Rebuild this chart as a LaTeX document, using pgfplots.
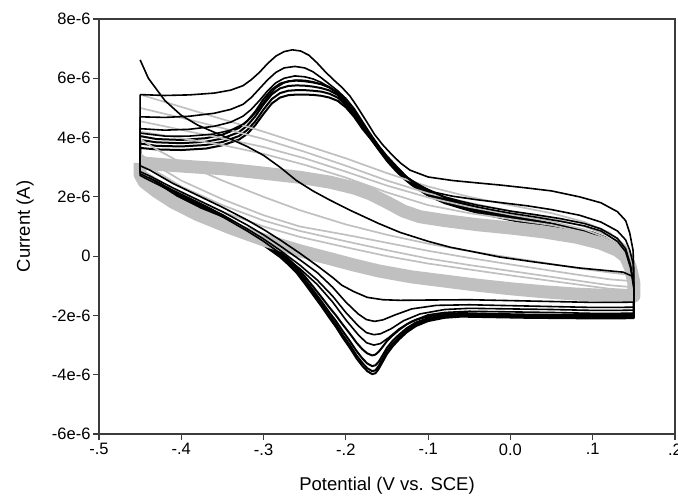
\documentclass[border=0pt]{standalone}
\usepackage{pgfplots}
\pgfplotsset{compat=1.18}
\usepackage{fontspec}
\setmainfont{Liberation Sans}
\definecolor{cvgray}{RGB}{192,192,192}
\definecolor{axgray}{RGB}{60,60,60}

\begin{document}
\begin{tikzpicture}
\begin{axis}[
    name=ax,
    scale only axis,
    width=576pt, height=415pt,
    xmin=-0.5, xmax=0.2,
    ymin=-6, ymax=8,
    axis line style={line width=1.3pt, axgray},
    tick style={line width=1.1pt, axgray},
    tick align=outside,
    tick pos=left,
    major tick length=6pt,
    xtick={-0.5,-0.4,-0.3,-0.2,-0.1,0,0.1,0.2},
    xticklabels={-.5,-.4,-.3,-.2,-.1,0.0,.1,.2},
    ytick={-6,-4,-2,0,2,4,6,8},
    yticklabels={-6e-6,-4e-6,-2e-6,0,2e-6,4e-6,6e-6,8e-6},
    ticklabel style={font=\fontsize{16.5}{16.5}\selectfont},
    yticklabel style={xshift=1pt},
    xlabel={Potential (V vs. SCE)},
    ylabel={Current (A)},
    every axis x label/.style={at={([yshift=-52pt]axis description cs:0.5,0)}, anchor=center, font=\fontsize{18.5}{18.5}\selectfont},
    every axis y label/.style={at={([xshift=-74pt]axis description cs:0,0.5)}, anchor=center, rotate=90, font=\fontsize{18.5}{18.5}\selectfont},
    every axis plot/.append style={line join=round},
]
% ---- dense black bundle (later cycles), currents in microampere
\addplot[black, line width=2pt] coordinates {
(-0.45,4.05) (-0.43,3.95) (-0.40,3.92) (-0.37,3.98) (-0.35,4.1) (-0.33,4.32) (-0.32,4.55) (-0.31,4.88) (-0.30,5.3) (-0.29,5.62) (-0.28,5.82) (-0.27,5.9) (-0.26,5.92) (-0.25,5.9) (-0.24,5.86) (-0.23,5.8) (-0.22,5.7) (-0.21,5.52) (-0.20,5.22) (-0.19,4.85) (-0.18,4.45) (-0.17,4.08) (-0.16,3.7) (-0.15,3.33) (-0.14,3.02) (-0.13,2.76) (-0.12,2.53) (-0.10,2.2) (-0.08,1.95) (-0.06,1.78) (-0.04,1.62) (-0.02,1.5) (0.0,1.38) (0.02,1.27) (0.04,1.16) (0.06,1.05) (0.08,0.94) (0.10,0.8) (0.115,0.64) (0.13,0.38) (0.14,0.05) (0.146,-0.45) (0.15,-1.15) (0.15,-1.98)
(0.13,-1.99) (0.10,-1.99) (0.06,-1.98) (0.02,-1.97) (-0.02,-1.95) (-0.06,-1.92) (-0.08,-1.95) (-0.10,-2.03) (-0.115,-2.15) (-0.126,-2.3) (-0.135,-2.48) (-0.143,-2.67) (-0.15,-2.86) (-0.155,-3.05) (-0.16,-3.22) (-0.164,-3.32) (-0.168,-3.35) (-0.174,-3.28) (-0.18,-3.14) (-0.187,-2.92) (-0.195,-2.62) (-0.204,-2.3) (-0.212,-2.0) (-0.22,-1.73) (-0.23,-1.37) (-0.24,-1.02) (-0.25,-0.68) (-0.26,-0.36) (-0.27,-0.08) (-0.28,0.14) (-0.30,0.54) (-0.32,0.9) (-0.34,1.22) (-0.37,1.67) (-0.40,2.1) (-0.43,2.52) (-0.45,2.77) (-0.45,4.05)
};
\addplot[black, line width=2pt] coordinates {
(-0.45,3.92) (-0.43,3.84) (-0.40,3.81) (-0.37,3.86) (-0.35,3.97) (-0.33,4.18) (-0.32,4.4) (-0.31,4.72) (-0.30,5.12) (-0.29,5.46) (-0.28,5.66) (-0.27,5.74) (-0.26,5.76) (-0.25,5.75) (-0.24,5.72) (-0.23,5.67) (-0.22,5.59) (-0.21,5.44) (-0.20,5.16) (-0.19,4.8) (-0.18,4.4) (-0.17,4.04) (-0.16,3.66) (-0.15,3.29) (-0.14,2.98) (-0.13,2.72) (-0.12,2.49) (-0.10,2.15) (-0.08,1.9) (-0.06,1.73) (-0.04,1.57) (-0.02,1.45) (0.0,1.33) (0.02,1.22) (0.04,1.11) (0.06,1.0) (0.08,0.89) (0.10,0.75) (0.115,0.6) (0.13,0.34) (0.14,0.02) (0.146,-0.48) (0.15,-1.18) (0.15,-2.02)
(0.13,-2.03) (0.10,-2.03) (0.06,-2.02) (0.02,-2.01) (-0.02,-1.99) (-0.06,-1.96) (-0.08,-1.99) (-0.10,-2.09) (-0.115,-2.24) (-0.126,-2.43) (-0.135,-2.64) (-0.143,-2.85) (-0.15,-3.09) (-0.155,-3.33) (-0.16,-3.56) (-0.164,-3.68) (-0.168,-3.71) (-0.174,-3.62) (-0.18,-3.45) (-0.187,-3.2) (-0.195,-2.87) (-0.204,-2.52) (-0.212,-2.19) (-0.22,-1.9) (-0.23,-1.51) (-0.24,-1.14) (-0.25,-0.78) (-0.26,-0.44) (-0.27,-0.16) (-0.28,0.07) (-0.30,0.47) (-0.32,0.83) (-0.34,1.15) (-0.37,1.6) (-0.40,2.03) (-0.43,2.45) (-0.45,2.7) (-0.45,3.92)
};
\addplot[black, line width=2pt] coordinates {
(-0.45,3.8) (-0.43,3.72) (-0.40,3.7) (-0.37,3.75) (-0.35,3.85) (-0.33,4.05) (-0.32,4.25) (-0.31,4.55) (-0.30,4.95) (-0.29,5.3) (-0.28,5.5) (-0.27,5.58) (-0.26,5.6) (-0.25,5.6) (-0.24,5.58) (-0.23,5.55) (-0.22,5.48) (-0.21,5.35) (-0.20,5.1) (-0.19,4.75) (-0.18,4.35) (-0.17,4.0) (-0.16,3.62) (-0.15,3.25) (-0.14,2.95) (-0.13,2.68) (-0.12,2.45) (-0.10,2.1) (-0.08,1.85) (-0.06,1.68) (-0.04,1.52) (-0.02,1.4) (0.0,1.28) (0.02,1.17) (0.04,1.06) (0.06,0.95) (0.08,0.84) (0.10,0.7) (0.115,0.55) (0.13,0.3) (0.14,0.0) (0.146,-0.5) (0.15,-1.2) (0.15,-2.05)
(0.13,-2.06) (0.10,-2.06) (0.06,-2.05) (0.02,-2.04) (-0.02,-2.02) (-0.06,-2.0) (-0.08,-2.04) (-0.10,-2.14) (-0.115,-2.3) (-0.126,-2.5) (-0.135,-2.72) (-0.143,-2.95) (-0.15,-3.2) (-0.155,-3.45) (-0.16,-3.7) (-0.164,-3.85) (-0.168,-3.88) (-0.174,-3.78) (-0.18,-3.6) (-0.187,-3.35) (-0.195,-3.0) (-0.204,-2.65) (-0.212,-2.3) (-0.22,-2.0) (-0.23,-1.6) (-0.24,-1.22) (-0.25,-0.85) (-0.26,-0.5) (-0.27,-0.22) (-0.28,0.02) (-0.30,0.42) (-0.32,0.78) (-0.34,1.1) (-0.37,1.55) (-0.40,1.98) (-0.43,2.4) (-0.45,2.65) (-0.45,3.8)
};
\addplot[black, line width=2pt] coordinates {
(-0.45,3.65) (-0.43,3.6) (-0.40,3.58) (-0.37,3.63) (-0.35,3.74) (-0.33,3.93) (-0.32,4.12) (-0.31,4.42) (-0.30,4.8) (-0.29,5.15) (-0.28,5.35) (-0.27,5.43) (-0.26,5.45) (-0.25,5.45) (-0.24,5.44) (-0.23,5.41) (-0.22,5.35) (-0.21,5.24) (-0.20,5.02) (-0.19,4.7) (-0.18,4.3) (-0.17,3.96) (-0.16,3.58) (-0.15,3.21) (-0.14,2.9) (-0.13,2.63) (-0.12,2.4) (-0.10,2.04) (-0.08,1.79) (-0.06,1.62) (-0.04,1.46) (-0.02,1.34) (0.0,1.22) (0.02,1.11) (0.04,1.0) (0.06,0.9) (0.08,0.79) (0.10,0.65) (0.115,0.5) (0.13,0.25) (0.14,-0.05) (0.146,-0.55) (0.15,-1.25) (0.15,-2.09)
(0.13,-2.1) (0.10,-2.1) (0.06,-2.09) (0.02,-2.08) (-0.02,-2.06) (-0.06,-2.04) (-0.08,-2.08) (-0.10,-2.19) (-0.115,-2.36) (-0.126,-2.57) (-0.135,-2.8) (-0.143,-3.04) (-0.15,-3.3) (-0.155,-3.55) (-0.16,-3.8) (-0.164,-3.95) (-0.168,-3.98) (-0.174,-3.88) (-0.18,-3.7) (-0.187,-3.45) (-0.195,-3.1) (-0.204,-2.74) (-0.212,-2.39) (-0.22,-2.08) (-0.23,-1.68) (-0.24,-1.3) (-0.25,-0.92) (-0.26,-0.56) (-0.27,-0.28) (-0.28,-0.03) (-0.30,0.37) (-0.32,0.73) (-0.34,1.05) (-0.37,1.5) (-0.40,1.93) (-0.43,2.35) (-0.45,2.6) (-0.45,3.65)
};
% ---- grey band (many grey cycles)
\addplot[cvgray, line width=13pt] coordinates {
(-0.45,3.15) (-0.42,3.08) (-0.39,3.02) (-0.35,2.95) (-0.30,2.8) (-0.256,2.66) (-0.22,2.5) (-0.19,2.3) (-0.17,2.1) (-0.15,1.82) (-0.13,1.52) (-0.11,1.33) (-0.08,1.2) (-0.04,1.06) (0.0,0.95) (0.04,0.82) (0.08,0.64) (0.109,0.44) (0.13,0.2) (0.14,-0.02) (0.146,-0.4) (0.15,-0.9) (0.15,-1.35)
(0.12,-1.33) (0.08,-1.28) (0.04,-1.2) (0.0,-1.1) (-0.04,-0.98) (-0.08,-0.84) (-0.12,-0.7) (-0.16,-0.5) (-0.19,-0.3) (-0.22,-0.08) (-0.256,0.18) (-0.30,0.55) (-0.34,0.95) (-0.38,1.4) (-0.41,1.82) (-0.43,2.18) (-0.445,2.5) (-0.45,2.75) (-0.45,3.15)
};
% ---- thin grey cycles
\addplot[cvgray, line width=1.7pt] coordinates {
(-0.45,5.45) (-0.42,5.2) (-0.39,4.95) (-0.35,4.62) (-0.30,4.2) (-0.25,3.75) (-0.20,3.3) (-0.15,2.8) (-0.10,2.35) (-0.05,2.0) (0.0,1.72) (0.05,1.45) (0.09,1.15) (0.12,0.8) (0.14,0.35) (0.148,-0.2) (0.15,-0.65)
(0.12,-0.55) (0.08,-0.4) (0.04,-0.22) (0.0,-0.05) (-0.05,0.17) (-0.10,0.42) (-0.15,0.72) (-0.20,1.07) (-0.256,1.55) (-0.30,2.0) (-0.35,2.55) (-0.40,3.15) (-0.43,3.6) (-0.45,3.95) (-0.45,5.45)
};
\addplot[cvgray, line width=1.7pt] coordinates {
(-0.45,5.0) (-0.42,4.8) (-0.39,4.6) (-0.35,4.32) (-0.30,3.95) (-0.25,3.52) (-0.20,3.05) (-0.15,2.55) (-0.10,2.12) (-0.05,1.8) (0.0,1.52) (0.05,1.28) (0.09,1.0) (0.12,0.68) (0.14,0.25) (0.148,-0.3) (0.15,-0.85)
(0.12,-0.78) (0.08,-0.62) (0.04,-0.45) (0.0,-0.28) (-0.05,-0.06) (-0.10,0.18) (-0.15,0.45) (-0.20,0.72) (-0.256,1.0) (-0.30,1.38) (-0.35,1.92) (-0.40,2.55) (-0.43,3.05) (-0.45,3.45) (-0.45,5.0)
};
\addplot[cvgray, line width=1.7pt] coordinates {
(-0.45,4.55) (-0.42,4.38) (-0.39,4.2) (-0.35,3.98) (-0.30,3.68) (-0.25,3.3) (-0.20,2.85) (-0.15,2.38) (-0.10,1.98) (-0.05,1.66) (0.0,1.4) (0.05,1.17) (0.09,0.9) (0.12,0.58) (0.14,0.15) (0.148,-0.4) (0.15,-1.05)
(0.12,-0.98) (0.08,-0.82) (0.04,-0.66) (0.0,-0.5) (-0.05,-0.3) (-0.10,-0.08) (-0.15,0.2) (-0.20,0.5) (-0.256,0.85) (-0.30,1.2) (-0.35,1.72) (-0.40,2.35) (-0.43,2.85) (-0.45,3.25) (-0.45,4.55)
};
\addplot[cvgray, line width=1.7pt] coordinates {
(-0.45,4.2) (-0.40,3.98) (-0.35,3.75) (-0.30,3.45) (-0.25,3.08) (-0.20,2.65) (-0.15,2.15) (-0.10,1.72) (-0.05,1.45) (0.0,1.25) (0.05,1.05) (0.09,0.8) (0.12,0.5) (0.14,0.05) (0.148,-0.5) (0.15,-1.15)
(0.12,-1.1) (0.08,-0.95) (0.04,-0.8) (0.0,-0.65) (-0.05,-0.45) (-0.10,-0.25) (-0.15,0.0) (-0.20,0.3) (-0.256,0.65) (-0.30,1.0) (-0.35,1.5) (-0.40,2.1) (-0.43,2.6) (-0.45,2.95) (-0.45,4.2)
};
% ---- early black cycles
\addplot[black, line width=1.6pt] coordinates {
(-0.45,5.45) (-0.42,5.42) (-0.39,5.44) (-0.36,5.5) (-0.34,5.6) (-0.325,5.75) (-0.315,5.95) (-0.305,6.2) (-0.295,6.5) (-0.285,6.75) (-0.275,6.9) (-0.265,6.96) (-0.255,6.92) (-0.245,6.78) (-0.235,6.52) (-0.225,6.22) (-0.215,5.95) (-0.205,5.7) (-0.195,5.4) (-0.186,5.03) (-0.175,4.55) (-0.165,4.1) (-0.155,3.75) (-0.146,3.48) (-0.134,3.15) (-0.122,2.9) (-0.10,2.67) (-0.07,2.55) (-0.04,2.47) (-0.013,2.4) (0.02,2.3) (0.05,2.2) (0.084,2.0) (0.11,1.8) (0.13,1.5) (0.14,1.2) (0.145,0.78) (0.149,0.2) (0.15,-0.5) (0.15,-1.55)
(0.13,-1.56) (0.10,-1.56) (0.05,-1.53) (0.0,-1.5) (-0.05,-1.47) (-0.10,-1.48) (-0.134,-1.49) (-0.155,-1.47) (-0.174,-1.39) (-0.19,-1.2) (-0.205,-0.98) (-0.216,-0.72) (-0.235,-0.32) (-0.256,0.1) (-0.28,0.55) (-0.30,0.9) (-0.32,1.22) (-0.35,1.65) (-0.38,2.05) (-0.41,2.45) (-0.438,2.9) (-0.45,3.05) (-0.45,5.45)
};
\addplot[black, line width=1.6pt] coordinates {
(-0.45,4.7) (-0.42,4.68) (-0.39,4.72) (-0.36,4.82) (-0.34,4.95) (-0.325,5.12) (-0.315,5.35) (-0.305,5.65) (-0.295,5.95) (-0.285,6.2) (-0.275,6.35) (-0.262,6.4) (-0.25,6.35) (-0.24,6.22) (-0.23,6.02) (-0.22,5.8) (-0.21,5.58) (-0.20,5.32) (-0.19,4.98) (-0.18,4.55) (-0.17,4.12) (-0.16,3.72) (-0.15,3.38) (-0.14,3.08) (-0.125,2.65) (-0.10,2.2) (-0.07,2.02) (-0.04,1.9) (-0.01,1.8) (0.02,1.7) (0.05,1.57) (0.084,1.38) (0.11,1.15) (0.13,0.85) (0.14,0.55) (0.145,0.2) (0.149,-0.24) (0.15,-1.0) (0.15,-1.72)
(0.13,-1.73) (0.10,-1.73) (0.05,-1.7) (0.0,-1.67) (-0.05,-1.64) (-0.09,-1.66) (-0.12,-1.78) (-0.14,-1.98) (-0.155,-2.15) (-0.165,-2.2) (-0.175,-2.14) (-0.185,-1.95) (-0.2,-1.55) (-0.216,-1.05) (-0.235,-0.55) (-0.256,-0.12) (-0.28,0.35) (-0.30,0.72) (-0.32,1.05) (-0.35,1.5) (-0.38,1.9) (-0.41,2.3) (-0.438,2.7) (-0.45,2.85) (-0.45,4.7)
};
\addplot[black, line width=1.6pt] coordinates {
(-0.45,4.3) (-0.42,4.25) (-0.39,4.28) (-0.36,4.38) (-0.34,4.52) (-0.325,4.72) (-0.315,4.95) (-0.305,5.25) (-0.295,5.58) (-0.285,5.85) (-0.275,6.0) (-0.262,6.08) (-0.25,6.05) (-0.24,5.98) (-0.23,5.86) (-0.22,5.7) (-0.21,5.5) (-0.20,5.24) (-0.19,4.9) (-0.18,4.48) (-0.17,4.08) (-0.16,3.7) (-0.15,3.33) (-0.14,3.02) (-0.13,2.75) (-0.12,2.52) (-0.10,2.25) (-0.08,2.0) (-0.06,1.85) (-0.04,1.72) (-0.02,1.62) (0.0,1.52) (0.03,1.4) (0.06,1.27) (0.09,1.1) (0.11,0.92) (0.13,0.6) (0.14,0.25) (0.146,-0.3) (0.15,-1.0) (0.15,-1.82)
(0.13,-1.83) (0.10,-1.83) (0.05,-1.8) (0.0,-1.78) (-0.05,-1.76) (-0.08,-1.8) (-0.11,-1.95) (-0.13,-2.18) (-0.145,-2.45) (-0.158,-2.62) (-0.166,-2.65) (-0.175,-2.58) (-0.185,-2.35) (-0.2,-1.9) (-0.216,-1.35) (-0.235,-0.8) (-0.256,-0.3) (-0.28,0.2) (-0.30,0.58) (-0.32,0.92) (-0.35,1.4) (-0.38,1.82) (-0.41,2.22) (-0.438,2.62) (-0.45,2.78) (-0.45,4.3)
};
\addplot[black, line width=1.6pt] coordinates {
(-0.45,4.15) (-0.42,4.05) (-0.39,4.05) (-0.36,4.12) (-0.34,4.25) (-0.325,4.45) (-0.315,4.68) (-0.305,5.0) (-0.295,5.38) (-0.285,5.68) (-0.275,5.85) (-0.262,5.94) (-0.25,5.93) (-0.24,5.88) (-0.23,5.8) (-0.22,5.68) (-0.21,5.5) (-0.20,5.23) (-0.19,4.88) (-0.18,4.47) (-0.17,4.07) (-0.16,3.69) (-0.15,3.32) (-0.14,3.0) (-0.13,2.75) (-0.12,2.55) (-0.10,2.23) (-0.08,1.98) (-0.06,1.8) (-0.04,1.66) (-0.02,1.55) (0.0,1.45) (0.03,1.32) (0.06,1.18) (0.09,1.02) (0.11,0.85) (0.13,0.5) (0.14,0.15) (0.146,-0.4) (0.15,-1.1) (0.15,-1.92)
(0.13,-1.93) (0.10,-1.93) (0.05,-1.9) (0.0,-1.88) (-0.05,-1.86) (-0.08,-1.9) (-0.10,-1.98) (-0.12,-2.2) (-0.135,-2.45) (-0.148,-2.75) (-0.158,-2.95) (-0.166,-3.0) (-0.175,-2.92) (-0.185,-2.65) (-0.2,-2.15) (-0.216,-1.55) (-0.235,-0.95) (-0.256,-0.42) (-0.28,0.1) (-0.30,0.5) (-0.32,0.85) (-0.35,1.33) (-0.38,1.76) (-0.41,2.16) (-0.438,2.55) (-0.45,2.72) (-0.45,4.15)
};
% ---- first sweep, decaying from the start potential
\addplot[black, line width=1.6pt] coordinates {
(-0.45,6.62) (-0.44,6.0) (-0.42,5.25) (-0.40,4.75) (-0.38,4.42) (-0.36,4.18) (-0.34,3.95) (-0.32,3.7) (-0.30,3.4) (-0.28,3.0) (-0.26,2.55) (-0.24,2.2) (-0.22,1.9) (-0.195,1.55) (-0.16,1.1) (-0.134,0.8) (-0.10,0.5) (-0.073,0.3) (-0.04,0.12) (-0.013,-0.03) (0.03,-0.2) (0.084,-0.4) (0.137,-0.54) (0.15,-0.7)
};
\end{axis}
\pgfresetboundingbox
\path[use as bounding box] ([xshift=-99pt,yshift=-63pt]ax.south west) rectangle ([xshift=3pt,yshift=19pt]ax.north east);
\end{tikzpicture}
\end{document}
